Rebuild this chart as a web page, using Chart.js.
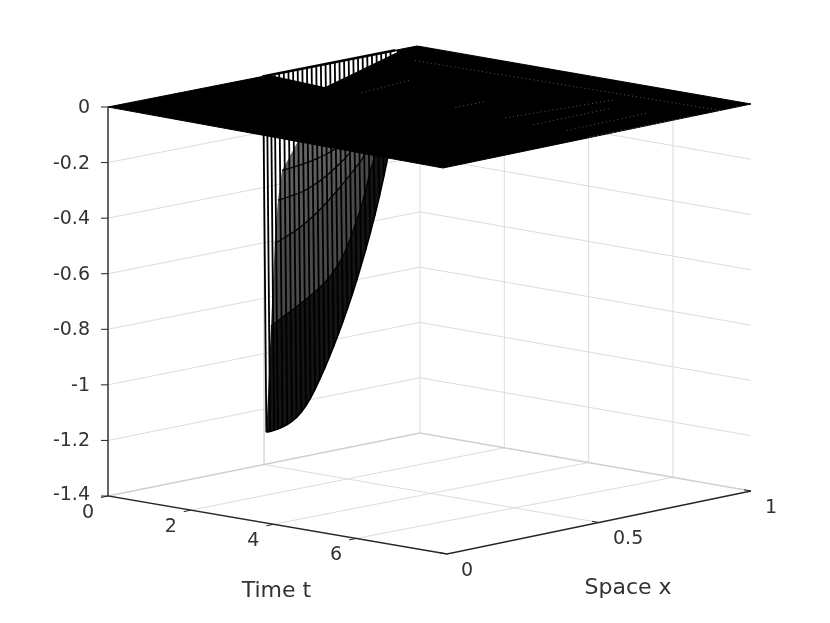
<!DOCTYPE html>
<html>
<head>
<meta charset="utf-8">
<title>Space time surface</title>
<script src="https://cdn.jsdelivr.net/npm/chart.js@4/dist/chart.umd.js"></script>
<style>
    body { margin: 0; background: #fff; }
    canvas { display: block; }
</style>
</head>
<body>
<canvas id="surface" width="830" height="623"></canvas>
<script>
// Axis ticks
const timeTicks = [0, 2, 4, 6];
const spaceTicks = [0, 0.5, 1];
const depthTicks = [0, -0.2, -0.4, -0.6, -0.8, -1, -1.2, -1.4];
const timeEnd = 8.2;

// Well in the surface: one row of depths per time step, one column per space line
const wellSpace = [0.508, 0.52, 0.533, 0.545, 0.56, 0.575, 0.59, 0.605, 0.62, 0.635, 0.65, 0.665, 0.68, 0.695, 0.71,
    0.725, 0.74, 0.755, 0.77, 0.785, 0.8, 0.815, 0.83, 0.845, 0.86, 0.875, 0.89, 0.905, 0.92];
const wellTime = [0, 0.12, 0.22, 0.3, 0.4, 1.5];
const depth0 = [-1.285, -1.285, -1.284, -1.282, -1.278, -1.273, -1.265, -1.254, -1.239, -1.219, -1.194, -1.165, -1.133, -1.099, -1.063,
    -1.025, -0.985, -0.943, -0.899, -0.853, -0.804, -0.753, -0.699, -0.642, -0.582, -0.517, -0.447, -0.372, -0.292];
const depth1 = [-0.9, -0.892, -0.884, -0.875, -0.866, -0.857, -0.848, -0.838, -0.828, -0.818, -0.807, -0.795, -0.782, -0.766, -0.747,
    -0.725, -0.7, -0.665, -0.625, -0.58, -0.535, -0.475, -0.41, -0.36, -0.31, -0.26, -0.21, -0.16, -0.12];
const depth2 = [-0.597, -0.593, -0.588, -0.582, -0.575, -0.567, -0.558, -0.548, -0.537, -0.525, -0.512, -0.498, -0.483, -0.468, -0.452,
    -0.435, -0.418, -0.4, -0.382, -0.365, -0.34, -0.31, -0.28, -0.25, -0.22, -0.19, -0.16, -0.13, -0.1];
const depth3 = [-0.44, -0.439, -0.437, -0.435, -0.432, -0.43, -0.426, -0.42, -0.413, -0.405, -0.396, -0.386, -0.375, -0.363, -0.35,
    -0.337, -0.32, -0.3, -0.28, -0.26, -0.24, -0.215, -0.19, -0.17, -0.15, -0.125, -0.1, -0.08, -0.06];
const depth4 = [-0.33, -0.329, -0.328, -0.326, -0.324, -0.322, -0.319, -0.316, -0.312, -0.308, -0.303, -0.297, -0.29, -0.28, -0.27,
    -0.258, -0.245, -0.23, -0.215, -0.2, -0.185, -0.17, -0.15, -0.13, -0.11, -0.09, -0.07, -0.05, -0.03];
const depth5 = [0, 0, 0, 0, 0, 0, 0, 0, 0, 0, 0, 0, 0, 0, 0, 0, 0, 0, 0, 0, 0, 0, 0, 0, 0, 0, 0, 0, 0];
const wellDepth = [depth0, depth1, depth2, depth3, depth4, depth5];
const bandColors = ['#141414', '#4a4a4a', '#585858', '#606060', '#666666'];

// Flat part of the surface, with the cut where the well opens: [time, space]
const planeOutline = [[0, 0], [0, 0.52], [1.5, 0.5], [0.15, 0.92], [0, 0.93], [0, 1], [timeEnd, 1], [timeEnd, 0], [0, 0]];
// Faint seams left in the dense mesh: [time, space] pairs
const planeSeams = [
    [[0.9, 0.87], [8.2, 0.9]],
    [[2.3, 0.51], [2.1, 0.69]],
    [[4.4, 0.53], [4.4, 0.62]],
    [[5.7, 0.516], [5.9, 0.83]],
    [[6.5, 0.5], [6.4, 0.75]],
    [[7.3, 0.5], [7.15, 0.77]],
    [[8.0, 0.48], [8.15, 0.81]]
];

// Projection: corners of the box in page pixels
const floorCorners = { L: [108, 496], B: [420, 433], R: [751, 491], F: [447, 554] };
const topCorners = { L: [108, 107], B: [417, 46], R: [751, 104], F: [443, 168] };

function project(t, x, z) {
    // time is a bit foreshortened towards the far wall
    const u = Math.min(1, t / (timeEnd - 0.35 * x));
    const w = (z + 1.4) / 1.4;
    const corner = c => {
        const a = [0, 1].map(i => c.L[i] + (c.B[i] - c.L[i]) * x);
        const b = [0, 1].map(i => c.F[i] + (c.R[i] - c.F[i]) * x);
        return [0, 1].map(i => a[i] + (b[i] - a[i]) * u);
    };
    const lo = corner(floorCorners);
    const hi = corner(topCorners);
    return { x: lo[0] + (hi[0] - lo[0]) * w, y: lo[1] + (hi[1] - lo[1]) * w };
}

// wall lines stay plumb, only the surface leans a little
function wallPoint(t, x, z) {
    return { x: project(t, x, -1.4).x, y: project(t, x, z).y };
}

function lineSet(points, color, width, extra) {
    return Object.assign({
        data: points,
        showLine: true,
        borderColor: color,
        borderWidth: width,
        pointRadius: 0,
        tension: 0,
        fill: false
    }, extra || {});
}

const datasets = [];
const gridColor = '#dcdcdc';
const axisColor = '#262626';

// Walls and floor grid
depthTicks.slice(0, -1).forEach(z => {
    datasets.push(lineSet([wallPoint(0, 0, z), wallPoint(0, 1, z), wallPoint(timeEnd, 1, z)], gridColor, 1));
});
spaceTicks.slice(1, 2).forEach(x => {
    datasets.push(lineSet([wallPoint(0, x, 0), project(0, x, -1.4), project(timeEnd, x, -1.4)], gridColor, 1));
});
timeTicks.slice(1).forEach(t => {
    datasets.push(lineSet([project(t, 0, -1.4), project(t, 1, -1.4), wallPoint(t, 1, 0)], gridColor, 1));
});
datasets.push(lineSet([project(0, 0, -1.4), project(0, 1, -1.4), project(timeEnd, 1, -1.4)], '#cfcfcf', 1.5));
datasets.push(lineSet([project(0, 1, -1.4), wallPoint(0, 1, 0)], gridColor, 1));

// Well shading between time steps
bandColors.forEach((color, k) => {
    const lower = wellSpace.map((x, i) => project(wellTime[k], x, wellDepth[k][i]));
    const upper = wellSpace.map((x, i) => project(wellTime[k + 1], x, wellDepth[k + 1][i]));
    const shape = lower.concat(upper.reverse());
    shape.push(lower[0]);
    datasets.push(lineSet(shape, color, 0, { fill: 'shape', backgroundColor: color }));
});

// Drop from the zero level to the first time step at each space position
wellSpace.forEach((x, i) => {
    datasets.push(lineSet([project(0, x - 0.006, 0), project(0, x, depth0[i])], '#000', 1.8));
});

// Lines along each time step
wellTime.slice(0, -1).forEach((t, k) => {
    const arc = wellSpace.map((x, i) => project(t, x, wellDepth[k][i]));
    datasets.push(lineSet(arc, '#000', k === 0 ? 1.6 : 1.3));
});

// Flat plane on top
const plane = planeOutline.map(p => project(p[0], p[1], 0));
datasets.push(lineSet(plane, '#000', 1, { fill: 'shape', backgroundColor: '#000' }));
datasets.push(lineSet([project(0, 0.5, 0), project(0, 0.93, 0)], '#000', 2.5));
planeSeams.forEach(seam => {
    const pts = seam.map(p => project(p[0], p[1], 0));
    datasets.push(lineSet(pts, 'rgba(180,180,180,0.5)', 1, { borderDash: [1, 3] }));
});

// Axis lines and tick marks
const zAxisTop = project(0, 0, 0);
const origin = project(0, 0, -1.4);
datasets.push(lineSet([zAxisTop, origin, project(timeEnd, 0, -1.4), project(timeEnd, 1, -1.4)], axisColor, 1.4));
depthTicks.forEach(z => {
    const p = project(0, 0, z);
    datasets.push(lineSet([p, { x: p.x - 7, y: p.y }], axisColor, 1));
});
timeTicks.forEach(t => {
    const p = project(t, 0, -1.4);
    datasets.push(lineSet([p, { x: p.x - 7, y: p.y + 1.5 }], axisColor, 1));
});
spaceTicks.forEach(x => {
    const p = project(timeEnd, x, -1.4);
    datasets.push(lineSet([p, { x: p.x - 7, y: p.y - 1.2 }], axisColor, 1));
});

// Tick labels and axis titles
const tickFont = '19px "DejaVu Sans"';
const titleFont = '22px "DejaVu Sans"';
const textColor = '#333333';
const textPlugin = {
    id: 'axisText',
    afterDatasetsDraw(chart) {
        const c = chart.ctx;
        const sx = chart.scales.x;
        const sy = chart.scales.y;
        const put = (text, p, dx, dy, align, font) => {
            c.font = font;
            c.textAlign = align;
            c.textBaseline = 'middle';
            c.fillStyle = textColor;
            c.fillText(text, sx.getPixelForValue(p.x) + dx, sy.getPixelForValue(p.y) + dy);
        };
        c.save();
        depthTicks.forEach(z => put(String(z), project(0, 0, z), -18, z === -1.4 ? -1 : 1, 'right', tickFont));
        timeTicks.forEach(t => put(String(t), project(t, 0, -1.4), -20, 17, 'center', tickFont));
        spaceTicks.forEach(x => put(String(x), project(timeEnd, x, -1.4), 14, 17, 'left', tickFont));
        put('Time t', project(4, 0, -1.4), 3, 67, 'center', titleFont);
        put('Space x', project(timeEnd, 0.5, -1.4), 29, 66, 'center', titleFont);
        c.restore();
    }
};

new Chart(document.getElementById('surface').getContext('2d'), {
    type: 'scatter',
    // first dataset is painted last, so reverse to paint back to front
    data: { datasets: datasets.reverse() },
    options: {
        responsive: false,
        animation: false,
        layout: { padding: 0 },
        scales: {
            x: { type: 'linear', min: 0, max: 830, display: false },
            y: { type: 'linear', min: 0, max: 623, reverse: true, display: false }
        },
        plugins: { legend: { display: false }, tooltip: { enabled: false } }
    },
    plugins: [textPlugin]
});
</script>
</body>
</html>
